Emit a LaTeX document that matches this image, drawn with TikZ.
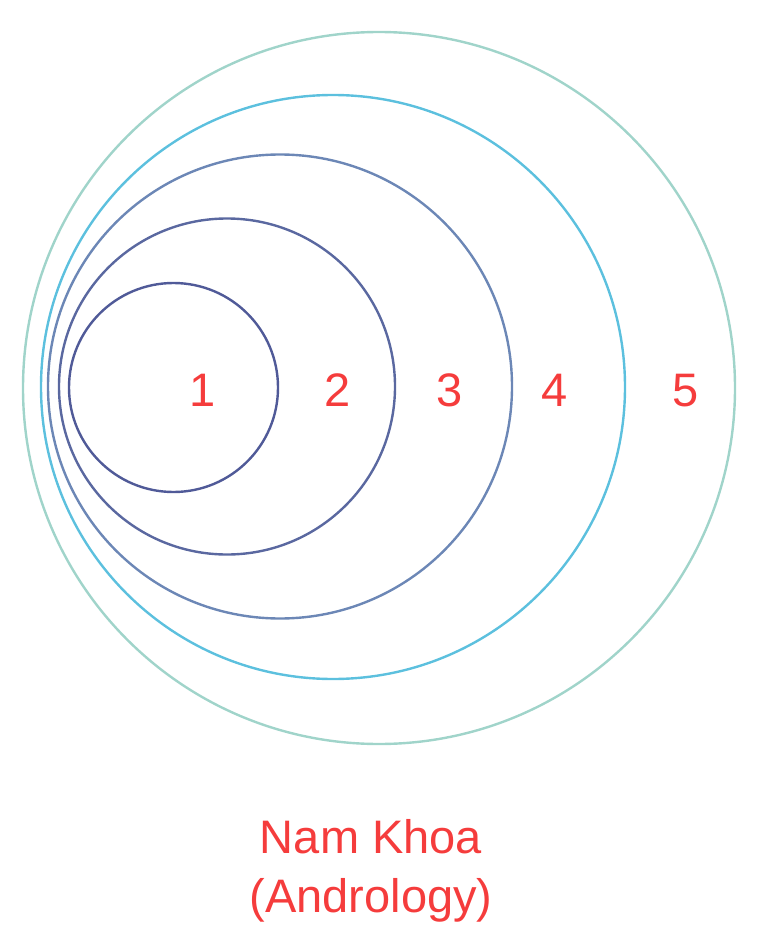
\documentclass[tikz,border=0pt]{standalone}
\usepackage{fontspec}
\setmainfont{Liberation Sans}
\usepackage{tikz}
\usepackage{xcolor}
\usetikzlibrary{positioning}

\definecolor{ringone}{RGB}{80,90,152}
\definecolor{ringtwo}{RGB}{90,104,160}
\definecolor{ringthree}{RGB}{108,135,182}
\definecolor{ringfour}{RGB}{92,192,222}
\definecolor{ringfive}{RGB}{160,212,202}
\definecolor{labelred}{RGB}{245,60,60}

\tikzset{
    ring/.style={circle, draw, line width=2.4pt, inner sep=0pt},
    num/.style={text=labelred, anchor=base, font=\fontsize{47}{56}\selectfont},
}

\begin{document}
\begin{tikzpicture}[x=1pt, y=-1pt]
                        \useasboundingbox (0, 0) rectangle (756, 925);
                        % the five rings
                        \node[ring, draw=ringfive, minimum size=712pt] (r5) at (379, 388) {};
                        \node[ring, draw=ringfour, minimum size=584pt] (r4) at (333, 387) {};
                        \node[ring, draw=ringthree, minimum size=464pt] (r3) at (280, 386.5) {};
                        \node[ring, draw=ringtwo, minimum size=336pt] (r2) at (227, 386.5) {};
                        \node[ring, draw=ringone, minimum size=209pt] (r1) at (173.5, 387.5) {};
                        % numbers
                        \node[num] (n1) at (203, 406) {1};
                        \node[num] (n2) at (338, 406) {2};
                        \node[num] (n3) at (450, 406) {3};
                        \node[num] (n4) at (555, 406) {4};
                        \node[num] (n5) at (686, 406) {5};
                        % caption
                        \node[num] (cap1) at (371, 853) {Nam Khoa};
                        \node[num] (cap2) at (371, 912) {(Andrology)};
                    \end{tikzpicture}
\end{document}
